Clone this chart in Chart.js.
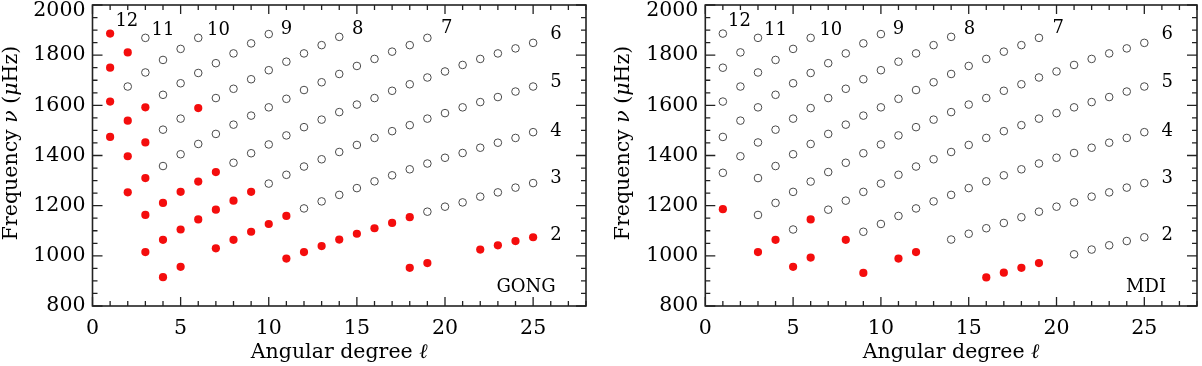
<!DOCTYPE html>
<html>
<head>
<meta charset="utf-8">
<script src="https://cdn.jsdelivr.net/npm/chart.js@4.4.1/dist/chart.umd.min.js"></script>
<style>
  html, body { margin: 0; padding: 0; background: #fff; }
  #wrap { display: flex; width: 1202px; height: 366px; }
  canvas { display: block; }
</style>
</head>
<body>
<div id="wrap">
  <canvas id="gongChart" width="600" height="366"></canvas>
  <canvas id="mdiChart" width="602" height="366"></canvas>
</div>
<script>
// angular degree l of each column
const degrees = [1, 2, 3, 4, 5, 6, 7, 8, 9, 10, 11, 12, 13, 14, 15, 16, 17, 18, 19, 20, 21, 22, 23, 24, 25];

// frequency (uHz) of each ridge n, one value per degree (null = no mode shown)
const nu2  = [null, null, null, null, null, null, null, null, null, null, null, null, null, null, null, 914, 933, 952, 971, null, 1006, 1025, 1042, 1059, 1074];
const nu3  = [null, null, null, null, null, null, null, null, 932, null, 989, 1015, 1039, 1065, 1088, 1110, 1131, 1154, 1176, 1196, 1213, 1236, 1253, 1272, 1290];
const nu4  = [null, null, null, 915, 956, 993, 1030, 1064, 1096, 1127, 1159, 1189, 1217, 1243, 1270, 1297, 1321, 1345, 1368, 1391, 1410, 1431, 1451, 1470, 1493];
const nu5  = [null, null, 1015, 1064, 1105, 1145, 1184, 1220, 1255, 1288, 1323, 1356, 1385, 1414, 1442, 1470, 1497, 1521, 1547, 1569, 1592, 1613, 1633, 1655, 1675];
const nu6  = [null, null, 1163, 1211, 1255, 1296, 1334, 1371, 1409, 1444, 1480, 1513, 1543, 1573, 1603, 1629, 1658, 1684, 1711, 1735, 1761, 1785, 1807, 1827, 1849];
const nu7  = [1186, 1253, 1310, 1358, 1405, 1446, 1486, 1523, 1559, 1592, 1626, 1661, 1692, 1725, 1757, 1785, 1814, 1840, 1869, null, null, null, null, null, null];
const nu8  = [1331, 1397, 1452, 1503, 1547, 1589, 1629, 1666, 1704, 1740, 1774, 1807, 1840, 1873, null, null, null, null, null, null, null, null, null, null, null];
const nu9  = [1474, 1539, 1592, 1642, 1688, 1729, 1768, 1807, 1847, 1884, null, null, null, null, null, null, null, null, null, null, null, null, null, null, null];
const nu10 = [1615, 1675, 1731, 1781, 1825, 1869, null, null, null, null, null, null, null, null, null, null, null, null, null, null, null, null, null, null, null];
const nu11 = [1750, 1811, 1869, null, null, null, null, null, null, null, null, null, null, null, null, null, null, null, null, null, null, null, null, null, null];
const nu12 = [1886, null, null, null, null, null, null, null, null, null, null, null, null, null, null, null, null, null, null, null, null, null, null, null, null];

const ridgeOrders = [2, 3, 4, 5, 6, 7, 8, 9, 10, 11, 12];
const ridgeFreqs = [nu2, nu3, nu4, nu5, nu6, nu7, nu8, nu9, nu10, nu11, nu12];

// [n, l] modes drawn as filled red dots, and modes missing from each set
const gongRed = [[12, 1], [11, 1], [11, 2], [10, 1], [9, 1], [9, 2], [9, 3], [8, 2], [8, 3], [8, 6],
  [7, 2], [7, 3], [6, 3], [6, 4], [6, 5], [6, 6], [6, 7],
  [5, 3], [5, 4], [5, 5], [5, 6], [5, 7], [5, 8], [5, 9],
  [4, 4], [4, 5], [4, 7], [4, 8], [4, 9], [4, 10], [4, 11],
  [3, 11], [3, 12], [3, 13], [3, 14], [3, 15], [3, 16], [3, 17], [3, 18],
  [2, 18], [2, 19], [2, 22], [2, 23], [2, 24], [2, 25]];
const gongMissing = [[8, 1], [7, 1], [4, 6], [3, 9], [2, 16], [2, 17], [2, 21]];

const mdiRed = [[7, 1], [5, 3], [5, 4], [5, 6], [4, 5], [4, 6], [4, 8], [3, 9], [3, 11], [3, 12],
  [2, 16], [2, 17], [2, 18], [2, 19]];
const mdiMissing = [[7, 2], [4, 4], [4, 7], [3, 13]];

// axis ranges and tick labels
const xTickLabels = [0, 5, 10, 15, 20, 25];
const yTickLabels = [800, 1000, 1200, 1400, 1600, 1800, 2000];

// ridge labels (n) and where they sit, in data units
const ridgeLabelText = ['12', '11', '10', '9', '8', '7', '6', '5', '4', '3', '2'];
const ridgeLabelL  = [1.95, 4.0, 7.15, 11.0, 15.05, 20.1, 26.3, 26.3, 26.3, 26.3, 26.3];
const ridgeLabelNu = [1933, 1900, 1900, 1904, 1904, 1906, 1884, 1691, 1497, 1307, 1081];

const FONT = '"DejaVu Serif", "Liberation Serif", serif';
const RED = '#f40d0d';

function hasMode(list, n, l) {
  return list.some(p => p[0] === n && p[1] === l);
}

function buildPoints(redList, missingList) {
  const open = [], red = [];
  ridgeOrders.forEach((n, i) => {
    ridgeFreqs[i].forEach((nu, j) => {
      const l = degrees[j];
      if (nu === null || hasMode(missingList, n, l)) return;
      (hasMode(redList, n, l) ? red : open).push({ x: l, y: nu });
    });
  });
  return { open, red };
}

function drawParts(ctx, parts, x, y, size) {
  let total = 0;
  parts.forEach(p => {
    ctx.font = (p.it ? 'italic ' : '') + size + 'px ' + FONT;
    p.w = ctx.measureText(p.t).width;
    total += p.w;
  });
  let cx = x - total / 2;
  ctx.textAlign = 'left';
  parts.forEach(p => {
    ctx.font = (p.it ? 'italic ' : '') + size + 'px ' + FONT;
    ctx.fillText(p.t, cx, y);
    cx += p.w;
  });
}

// frame, inward ticks, labels and annotations
const framePlugin = {
  id: 'frame',
  afterDatasetsDraw(chart, args, opts) {
    const { ctx, chartArea: a, scales: { x, y } } = chart;
    ctx.save();
    ctx.strokeStyle = '#222';
    ctx.lineWidth = 1.6;
    ctx.strokeRect(a.left, a.top, a.right - a.left, a.bottom - a.top);

    ctx.lineWidth = 1.3;
    ctx.beginPath();
    for (let v = 0; v <= 28; v++) {
      const px = x.getPixelForValue(v);
      const len = v % 5 === 0 ? 9 : 5;
      ctx.moveTo(px, a.bottom); ctx.lineTo(px, a.bottom - len);
      ctx.moveTo(px, a.top); ctx.lineTo(px, a.top + len);
    }
    for (let v = 800; v <= 2000; v += 50) {
      const py = y.getPixelForValue(v);
      const len = v % 200 === 0 ? 10 : 5;
      ctx.moveTo(a.left, py); ctx.lineTo(a.left + len, py);
      ctx.moveTo(a.right, py); ctx.lineTo(a.right - len, py);
    }
    ctx.stroke();

    ctx.fillStyle = '#000';
    ctx.font = '20.5px ' + FONT;
    ctx.textAlign = 'center';
    ctx.textBaseline = 'middle';
    xTickLabels.forEach(v => ctx.fillText(String(v), x.getPixelForValue(v), 329));
    ctx.textAlign = 'right';
    yTickLabels.forEach(v => {
      const py = Math.max(y.getPixelForValue(v), 11);
      ctx.fillText(String(v), a.left - 7, py);
    });

    ctx.textBaseline = 'alphabetic';
    drawParts(ctx, [{ t: 'Angular degree ' }, { t: 'ℓ', it: true }], (a.left + a.right) / 2, 358, 20.5);

    ctx.save();
    ctx.translate(a.left - 76, 143);
    ctx.rotate(-Math.PI / 2);
    drawParts(ctx, [{ t: 'Frequency ' }, { t: 'ν', it: true }, { t: ' (' }, { t: 'μ', it: true }, { t: 'Hz)' }], 0, 0, 20.5);
    ctx.restore();

    ctx.font = '18px ' + FONT;
    ctx.textAlign = 'center';
    ctx.textBaseline = 'middle';
    ridgeLabelText.forEach((t, i) => {
      ctx.fillText(t, x.getPixelForValue(ridgeLabelL[i]), y.getPixelForValue(ridgeLabelNu[i]));
    });

    ctx.font = '18px ' + FONT;
    ctx.fillText(opts.tag, x.getPixelForValue(opts.tagL), y.getPixelForValue(875));
    ctx.restore();
  }
};

function makePanel(id, redList, missingList, tag, tagL, yWidth, padRight) {
  const pts = buildPoints(redList, missingList);
  return new Chart(document.getElementById(id), {
    type: 'scatter',
    data: {
      datasets: [{
        label: 'modes',
        data: pts.open,
        pointRadius: 3.8,
        pointBackgroundColor: 'rgba(0,0,0,0)',
        pointBorderColor: '#4a4a4a',
        pointBorderWidth: 1
      }, {
        label: 'selected',
        data: pts.red,
        pointRadius: 4.1,
        pointBackgroundColor: RED,
        pointBorderColor: RED,
        pointBorderWidth: 0
      }]
    },
    options: {
      responsive: false,
      animation: false,
      devicePixelRatio: 1,
      layout: { padding: { top: 3, right: padRight, left: 0, bottom: 0 } },
      plugins: {
        legend: { display: false },
        tooltip: { enabled: false },
        frame: { tag: tag, tagL: tagL }
      },
      scales: {
        x: {
          type: 'linear', min: 0, max: 28,
          grid: { display: false }, border: { display: false },
          ticks: { display: false },
          afterFit: s => { s.height = 60; }
        },
        y: {
          type: 'linear', min: 800, max: 2000,
          grid: { display: false }, border: { display: false },
          ticks: { display: false },
          afterFit: s => { s.width = yWidth; }
        }
      }
    },
    plugins: [framePlugin]
  });
}

makePanel('gongChart', gongRed, gongMissing, 'GONG', 24.6, 92.5, 14);
makePanel('mdiChart', mdiRed, mdiMissing, 'MDI', 25.1, 105.3, 4);
</script>
</body>
</html>
